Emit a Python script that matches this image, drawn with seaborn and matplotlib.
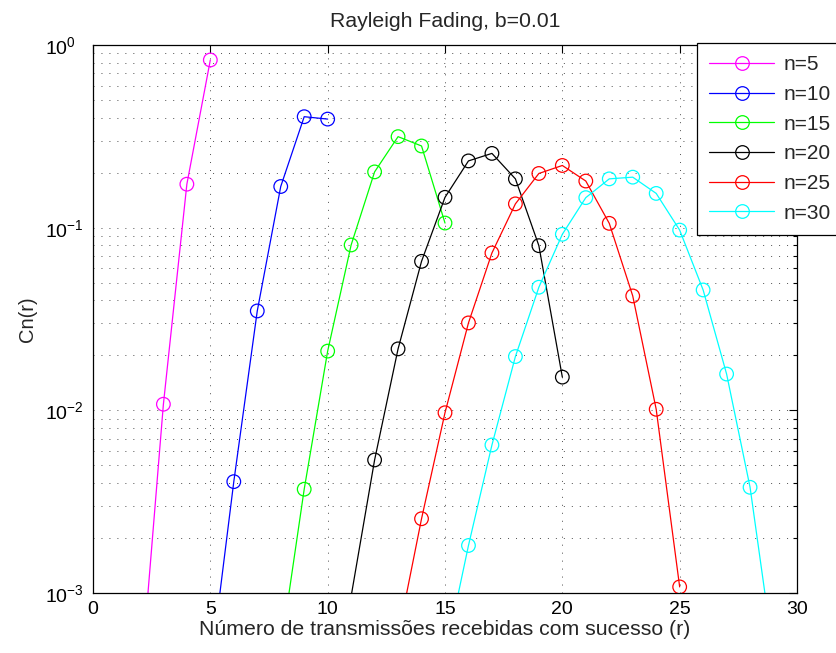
import numpy as np
import pandas as pd
import matplotlib
matplotlib.use("Agg")
import matplotlib.pyplot as plt
import seaborn as sns
from matplotlib.lines import Line2D
from matplotlib.ticker import LogLocator, NullFormatter

# Probability Cn(r) of r successful receptions out of n transmissions
r5 = [2, 3, 4, 5]
c5 = [2.9e-4, 0.0108, 0.173, 0.828]

r10 = [5, 6, 7, 8, 9, 10]
c10 = [3.8e-4, 0.00407, 0.035, 0.168, 0.405, 0.393]

r15 = [8, 9, 10, 11, 12, 13, 14, 15]
c15 = [4.9e-4, 0.0037, 0.0211, 0.0804, 0.202, 0.315, 0.280, 0.106]

r20 = [10, 11, 12, 13, 14, 15, 16, 17, 18, 19, 20]
c20 = [1.3e-4, 9.6e-4, 0.00535, 0.0217, 0.0654, 0.1466, 0.232, 0.255, 0.185, 0.0797, 0.0152]

r25 = [13, 14, 15, 16, 17, 18, 19, 20, 21, 22, 23, 24, 25]
c25 = [5.8e-4, 0.00255, 0.0097, 0.0301, 0.0727, 0.135, 0.198, 0.219, 0.180, 0.1056, 0.0423, 0.01013, 0.00108]

r30 = [15, 16, 17, 18, 19, 20, 21, 22, 23, 24, 25, 26, 27, 28, 29]
c30 = [4.5e-4, 0.00182, 0.00646, 0.0197, 0.0472, 0.092, 0.146, 0.185, 0.189, 0.154, 0.097, 0.0456, 0.0158, 0.00379, 4.6e-4]

labels = ["n=5", "n=10", "n=15", "n=20", "n=25", "n=30"]
colors = ["#ff00ff", "#0000ff", "#00ff00", "#000000", "#ff0000", "#00ffff"]
xs = [r5, r10, r15, r20, r25, r30]
ys = [c5, c10, c15, c20, c25, c30]

YMIN, YMAX = 1e-3, 1.0

sns.set_style("white")
plt.rcParams["font.family"] = ["Liberation Sans", "DejaVu Sans"]
plt.rcParams["mathtext.fontset"] = "custom"
plt.rcParams["mathtext.rm"] = "Liberation Sans"
plt.rcParams["mathtext.it"] = "Liberation Sans:italic"
plt.rcParams["mathtext.bf"] = "Liberation Sans:bold"

fig = plt.figure(figsize=(8.37, 6.53), dpi=100)
ax = fig.add_axes([93 / 837, 1 - 593 / 653, (797 - 93) / 837, (593 - 45) / 653])

LW, MS, MEW = 0.9, 9.8, 0.9
handles = []
for x, y, lab, col in zip(xs, ys, labels, colors):
    df = pd.DataFrame({"r": x, "Cn": y})
    # connecting line runs through all points; markers only where the point lies in range
    sns.lineplot(data=df, x="r", y="Cn", ax=ax, color=col, lw=LW, legend=False)
    shown = df[(df["Cn"] >= YMIN) & (df["Cn"] <= YMAX)]
    sns.scatterplot(data=shown, x="r", y="Cn", ax=ax, marker="o", s=MS ** 2,
                    facecolor="none", edgecolor=col, linewidth=MEW,
                    legend=False, zorder=3)
    handles.append(Line2D([], [], color=col, lw=LW, marker="o", markersize=MS,
                          markerfacecolor="none", markeredgecolor=col,
                          markeredgewidth=MEW, label=lab))

ax.set_yscale("log")
ax.set_xlim(0, 30)
ax.set_ylim(YMIN, YMAX)
ax.set_xticks([0, 5, 10, 15, 20, 25, 30])
ax.yaxis.set_major_locator(LogLocator(base=10, numticks=10))
ax.yaxis.set_minor_locator(LogLocator(base=10, subs=np.arange(2, 10), numticks=20))
ax.yaxis.set_minor_formatter(NullFormatter())

grid_kw = dict(color="0.3", lw=0.7, linestyle=(0, (1, 7.2)))
ax.grid(True, which="major", axis="both", **grid_kw)
ax.grid(True, which="minor", axis="y", **grid_kw)
ax.set_axisbelow(True)

for s in ax.spines.values():
    s.set_color("black")
    s.set_linewidth(0.9)
ax.tick_params(which="both", direction="in", top=True, right=True,
               colors="black", labelsize=14, width=0.8)
ax.tick_params(which="major", length=6)
ax.tick_params(axis="x", which="major", pad=6)
# y labels: the "10" base starts at a common left edge, exponents trail to the right
ax.tick_params(axis="y", which="major", pad=34.5)
plt.setp(ax.get_yticklabels(), ha="left")
ax.tick_params(which="minor", length=3)

ax.set_title("Rayleigh Fading, b=0.01", fontsize=15.3, pad=13)
ax.set_xlabel("Número de transmissões recebidas com sucesso (r)", fontsize=15.3, labelpad=1)
ax.set_ylabel("Cn(r)", fontsize=14.5, labelpad=6)

leg = fig.legend(handles=handles, loc="upper left",
                 bbox_to_anchor=(697 / 837, 1 - 43 / 653),
                 fontsize=15, frameon=True, fancybox=False, framealpha=1,
                 edgecolor="black", borderpad=0.6, handlelength=3.1,
                 handletextpad=0.45, labelspacing=0.51, borderaxespad=0)
leg.get_frame().set_linewidth(0.9)

fig.savefig("out.png", dpi=100, facecolor="white")
